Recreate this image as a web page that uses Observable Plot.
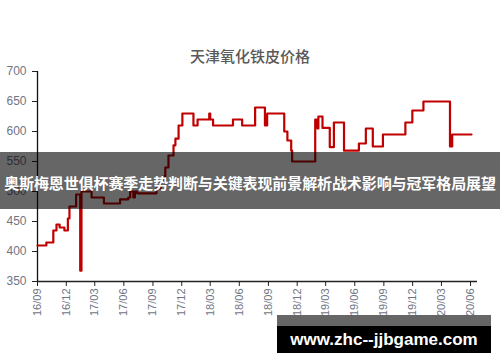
<!DOCTYPE html>
<html><head><meta charset="utf-8">
<script src="https://cdn.jsdelivr.net/npm/d3@7"></script>
<script src="https://cdn.jsdelivr.net/npm/@observablehq/plot@0.6"></script>
<style>
html,body{margin:0;padding:0;background:#fff;}
#wrap{position:relative;width:500px;height:362px;overflow:hidden;}
#title{position:absolute;left:0;width:500px;top:46px;text-align:center;font-family:"Noto Sans CJK SC";font-size:15px;font-weight:500;color:#595959;line-height:20px;}
#band{position:absolute;left:0;top:152px;width:500px;height:57px;background:rgba(0,0,0,0.6);}
#bandtext{position:absolute;left:0;top:172px;width:500px;text-align:center;font-family:"Noto Sans CJK SC";font-size:15px;font-weight:bold;color:#fff;line-height:22px;letter-spacing:-0.1px;white-space:nowrap;}
#wm1{position:absolute;left:277px;top:315px;width:214px;height:11px;background:#666;}
#wm2{position:absolute;left:277px;top:326px;width:214px;height:27px;background:#000;color:#fff;font-family:"Liberation Sans";font-weight:bold;font-size:17px;line-height:27px;text-align:center;}
svg [aria-label="y-axis tick label"], svg [aria-label="x-axis tick label"]{fill:#6f7585;}
</style></head>
<body><div id="wrap"></div>
<script>
const title = "天津氧化铁皮价格";
const bandText = "奥斯梅恩世俱杯赛季走势判断与关键表现前景解析战术影响与冠军格局展望";
const watermark = "www.zhc--jjbgame.com";
const yTicks = [350, 400, 450, 500, 550, 600, 650, 700];
const xTicks = ["2016-09-01","2016-12-01","2017-03-01","2017-06-01","2017-09-01","2017-12-01","2018-03-01","2018-06-01","2018-09-01","2018-12-01","2019-03-01","2019-06-01","2019-09-01","2019-12-01","2020-03-01","2020-06-01"];
const xTickLabels = ["16/09","16/12","17/03","17/06","17/09","17/12","18/03","18/06","18/09","18/12","19/03","19/06","19/09","19/12","20/03","20/06"];
const dates = ["2016-09-01","2016-09-29","2016-10-21","2016-10-31","2016-11-10","2016-11-25","2016-12-06","2016-12-11","2017-01-01","2017-01-14","2017-01-18","2017-02-19","2017-03-30","2017-05-20","2017-06-15","2017-06-21","2017-07-01","2017-07-06","2017-07-13","2017-09-12","2017-09-25","2017-10-04","2017-10-10","2017-10-20","2017-11-05","2017-11-11","2017-11-21","2017-12-03","2018-01-07","2018-01-20","2018-02-26","2018-03-01","2018-03-10","2018-05-12","2018-06-10","2018-07-21","2018-08-21","2018-08-28","2018-10-21","2018-10-31","2018-11-12","2018-11-15","2019-01-27","2019-02-03","2019-02-06","2019-02-19","2019-03-14","2019-03-27","2019-04-28","2019-06-14","2019-07-06","2019-07-28","2019-08-29","2019-11-08","2019-11-30","2020-01-04","2020-03-19","2020-03-28","2020-04-04","2020-06-04"];
const prices = [410,415,435,445,440,435,455,475,495,368,500,490,480,487,490,500,490,500,497,505,515,525,540,560,577,588,610,630,610,620,630,620,610,620,610,640,610,630,600,585,568,550,620,605,625,606,574,615,568,580,605,575,595,615,635,650,650,575,595,595];

const data = dates.map((d, i) => ({date: new Date(d), value: prices[i]}));
const tickDates = xTicks.map(d => new Date(d));
const labelOf = new Map(xTicks.map((d, i) => [+new Date(d), xTickLabels[i]]));
const x0 = new Date("2016-09-01"), x1 = new Date("2020-06-23");

const chart = Plot.plot({
  width: 500, height: 362,
  marginLeft: 37, marginRight: 23, marginTop: 71, marginBottom: 81,
  style: {fontFamily: "Liberation Sans", fontSize: "12px", background: "transparent"},
  x: {type: "utc", domain: [x0, x1]},
  y: {domain: [350, 700]},
  marks: [
    Plot.axisY({ticks: yTicks, tickSize: 5, tickPadding: 6, label: null, stroke: "#222", fontSize: 12}),
    Plot.axisX({ticks: tickDates, tickFormat: d => labelOf.get(+d), tickRotate: -90, tickSize: 5, tickPadding: 2, label: null, stroke: "#222", fontSize: 11}),
    Plot.ruleX([x0], {y1: 350, y2: 700, stroke: "#111", strokeWidth: 1.3}),
    Plot.ruleY([350], {x1: x0, x2: x1, stroke: "#222", strokeWidth: 1.3}),
    Plot.line(data, {x: "date", y: "value", curve: "step-after", stroke: "#c00000", strokeWidth: 2.2})
  ]
});
const wrap = document.getElementById("wrap");
wrap.appendChild(chart);
const mk = (id, txt) => { const d = document.createElement("div"); d.id = id; if (txt) d.textContent = txt; wrap.appendChild(d); };
mk("title", title);
mk("band");
mk("bandtext", bandText);
mk("wm1");
mk("wm2", watermark);
</script>
</body></html>
